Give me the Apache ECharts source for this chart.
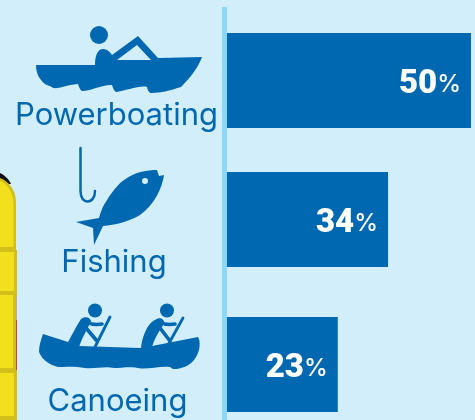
<!DOCTYPE html>
<html><head><meta charset="utf-8">
<style>html,body{margin:0;padding:0;background:#d2eefa}#c{width:475px;height:420px}</style>
<script src="https://cdn.jsdelivr.net/npm/echarts@6/dist/echarts.min.js"></script>
</head><body><div id="c"></div>
<script>
const categories = ['Powerboating', 'Fishing', 'Canoeing'];
const barValues = [50, 33, 22.7];
const labelValues = [50, 34, 23];

const BLUE = '#0068b0';
const grids = [[33, 95, 35, 110.5], [172, 95, 43, 113], [317, 95, 37.5, 109.5]]; // top, height, label shift, label margin

const boat = 'M36,65 L95,65 C95,55 98,49 103,49 C107,49 110,52 112,55 L138,36 L158,58 L202,57 C198,68 190,78 181,87 C172,90 160,93 152,93 C149,93 148,91 147,87 C140,85 125,91 116,92 C114,91 113,88 112,85 C104,84 90,91 82,91 C80,90 79,87 78,84 C70,84 60,89 53,88 C50,85 47,86 45,84 C40,80 36,74 36,65 Z M117,60 L151,60 L137,45 Z';
const fish = 'M157,170 L159,176 L164,175 C162,188 155,204 140,215 C128,222 115,225 103,226 L94,245 L93,228 L76,222 L99,218 C101,210 104,204 107,200 C114,189 120,182 127,178 C136,172 147,170 157,170 Z';
const hook = 'M80.5,148 L80.5,191 C80.5,198 84,201.5 87.5,201.5 C92,201.5 95,197 95,191';
const canoe = 'M43,334 L68,342 L79,346 L140,348 L152,346 L198,337 C200,340 200,345 199,350 C196,360 190,366 181,368 C175,370 172,369 170,367 C160,366 150,369 141,368.5 C130,366 122,368 114,368 C105,366 95,369 85,368 C75,366 65,367 58,367 C50,365 42,360 39,352 C39,345 41,340 43,334 Z';
const torso1 = 'M68,342 C72,335 77,325 81,319 C85,316 90,317 91,321 C90,325 84,333 79,347 Z';
const torso2 = 'M141,349 C142,335 149,322 155,320 C160,316 165,319 164,324 C160,330 155,337 152,347 Z';

let shapeCount = 0;
function P(d, fillc, stroke, lw) {
  const name = 'svgShape' + (shapeCount++);
  echarts.graphic.registerShape(name, echarts.graphic.extendPath(d, {}));
  return { type: name, silent: true, style: { fill: fillc || 'none', stroke: stroke || 'none', lineWidth: lw || 0, lineCap: 'round' } };
}
const circle = (cx, cy, r, c) => ({ type: 'circle', silent: true, shape: { cx, cy, r }, style: { fill: c || BLUE } });
const rect = (x, y, width, height, c) => ({ type: 'rect', silent: true, shape: { x, y, width, height }, style: { fill: c } });

const YEL = '#f2e01c', DK = '#d3bf1c';
const graphic = [
  rect(222, 7, 5, 413, '#8dd8f8'),
  P('M0,173 C4,175 9,179 11,184 L0,184 Z', '#111'),
  P('M0,178 C8,181 16,189 16,203 L16,250 L17,250 L17,420 L0,420 Z', DK),
  P('M0,181 C7,184 13,191 13.5,203 L13.5,247 L0,247 Z', YEL),
  rect(0, 252, 14, 39, YEL), rect(0, 295, 13, 73, YEL), rect(0, 373, 14, 43, YEL),
  rect(16, 296, 1, 24, '#c9a8a0'), rect(16, 320, 1, 50, '#d0403a'),
  P(boat, BLUE), circle(99, 35, 9),
  P(hook, null, BLUE, 2.5), P(fish, BLUE), circle(145, 181, 3, '#d2eefa'),
  P(canoe, BLUE), P(torso1, BLUE), P(torso2, BLUE),
  circle(95, 310.5, 7), circle(167, 310.5, 7),
  P('M87,322 C92,325 96,325 102,324', null, BLUE, 3.6),
  P('M86,328 L97,341', null, BLUE, 3.6),
  P('M110,317 L95,347', null, BLUE, 2.8),
  P('M160,322 C165,325 169,325 175,324', null, BLUE, 3.6),
  P('M160,328 L170,341', null, BLUE, 3.6),
  P('M183,318 L168,345', null, BLUE, 2.8)
];

const option = {
  backgroundColor: '#d2eefa',
  animation: false,
  graphic,
  grid: grids.map(g => ({ left: 227, width: 244, top: g[0], height: g[1], outerBoundsMode: 'none' })),
  xAxis: grids.map((g, i) => ({ gridIndex: i, type: 'value', min: 0, max: 50, show: false })),
  yAxis: grids.map((g, i) => ({
    gridIndex: i, type: 'category', data: [categories[i]],
    axisLine: { show: false }, axisTick: { show: false }, splitLine: { show: false },
    axisLabel: {
      color: BLUE, fontFamily: 'Inter', fontSize: 31, align: 'center', verticalAlign: 'top',
      lineHeight: g[2] * 2, margin: g[3], hideOverlap: false
    }
  })),
  series: grids.map((g, i) => ({
    type: 'bar', xAxisIndex: i, yAxisIndex: i, data: [barValues[i]], barWidth: '100%',
    itemStyle: { color: BLUE },
    label: {
      show: true, position: 'insideRight', distance: 10, offset: [0, 4],
      formatter: () => '{n|' + labelValues[i] + '}{p|%}',
      rich: {
        n: { color: '#fff', fontFamily: 'Roboto', fontWeight: 900, fontSize: 33 },
        p: { color: '#fff', fontFamily: 'Inter', fontWeight: 500, fontSize: 24 }
      }
    }
  }))
};
const chart = echarts.init(document.getElementById('c'), null, { renderer: 'canvas' });
chart.setOption(option);
</script></body></html>
